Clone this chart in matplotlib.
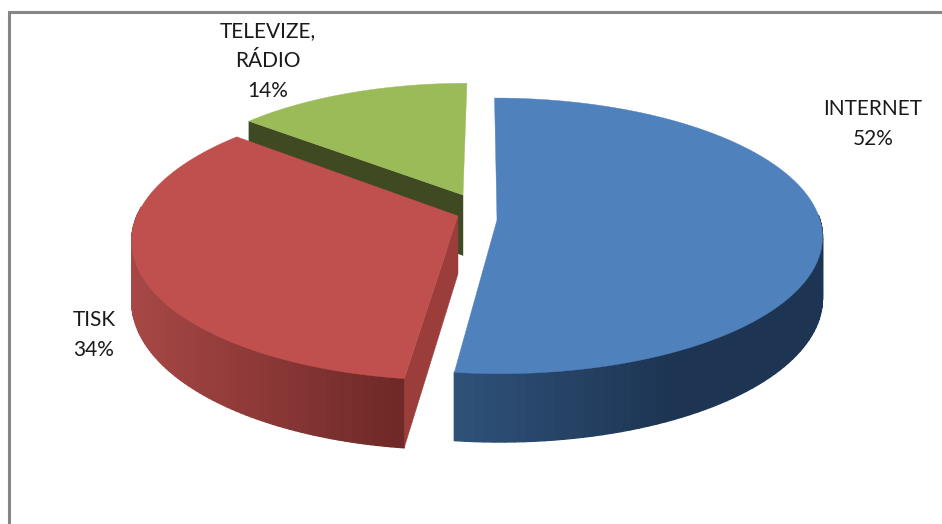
import numpy as np
import matplotlib
matplotlib.use('Agg')
import matplotlib.pyplot as plt
from matplotlib.collections import PolyCollection
from matplotlib.colors import to_rgb

categories = ['INTERNET', 'TISK', 'TELEVIZE,\nRÁDIO']
shares = [52, 34, 14]

# per-slice look, in pixels: apex, size, skew, perspective, depth, colours
apex_x = [497, 458, 463]
apex_y = [220, 216, 195]
slice_scale = [1.0, 0.994, 0.93]
slice_skew = [-0.02, 0.035, 0.035]
slice_b = [136, 138, 133]
slice_p = [0.115, 0.165, 0.115]
slice_depth = [60.5, 58, 60.5]
top_colors = ['#4f81bd', '#c0504d', '#9bbb59']
rim_left = ['#30527a', '#a84846', '#3f4a22']
rim_right = ['#1d3553', '#6f2927', '#3f4a22']
inner_colors = ['#2f4d72', '#9a3d3b', '#3f4a22']
label_x = [873, 94, 268]
label_y = [124, 335, 61]

A = 323


def project(i, theta, r=1.0):
    """Perspective position of a point on slice i, angle clockwise from the top"""
    X = r * np.sin(theta) * slice_scale[i]
    Y = r * np.cos(theta) * slice_scale[i]
    s = 1 / (1 + slice_p[i] * Y)
    sy = apex_y[i] - slice_b[i] * Y * s
    sx = apex_x[i] + A * X * s + slice_skew[i] * (apex_y[i] - sy)
    return sx, sy, s


def quad_side(i, t):
    d = slice_depth[i]
    x0, y0, s0 = project(i, t, 0.0)
    x1, y1, s1 = project(i, t, 1.0)
    return [(x0, y0), (x1, y1), (x1, y1 + d * s1), (x0, y0 + d * s0)]


fig = plt.figure(figsize=(9.42, 5.24), dpi=100)
ax = fig.add_axes([0, 0, 1, 1])
ax.set_xlim(0, 942)
ax.set_ylim(524, 0)
ax.axis('off')

# frame
ax.plot([9, 9, 942], [524, 12, 12], color='#868686', lw=2.2, solid_joinstyle='miter')

bounds = np.cumsum([0] + shares) / sum(shares) * 2 * np.pi
for i in [2, 0, 1]:
    start, end = bounds[i], bounds[i + 1]
    th = np.linspace(start, end, 120)
    d = slice_depth[i]

    # outer rim, only the part facing the viewer
    quads, cols = [], []
    for t0, t1 in zip(th[:-1], th[1:]):
        if np.cos(t0) < 0.05 and i != 2:
            x0, y0, s0 = project(i, t0)
            x1, y1, s1 = project(i, t1)
            quads.append([(x0, y0), (x1, y1), (x1, y1 + d * s1), (x0, y0 + d * s0)])
            f = (x0 - 130) / 270 if i == 1 else (x0 - 453) / 220
            f = min(max(f, 0), 1)
            c = (1 - f) * np.array(to_rgb(rim_left[i])) + f * np.array(to_rgb(rim_right[i]))
            cols.append(c)
    if quads:
        ax.add_collection(PolyCollection(quads, facecolors=cols, edgecolors=cols, linewidths=1.0))

    # cut faces
    if i in (1, 2):
        ax.fill(*zip(*quad_side(i, start)), color=inner_colors[i], lw=0.3)

    # top
    px, py, _ = project(i, th)
    ox, oy, _ = project(i, 0.0, 0.0)
    ax.fill(np.r_[ox, px], np.r_[oy, py], color=top_colors[i], lw=0.3)

for i, name in enumerate(categories):
    ax.text(label_x[i], label_y[i], '{}\n{}%'.format(name, shares[i]), ha='center', va='center',
            family='Lato', fontsize=15, color='#1a1a1a', linespacing=1.63)

fig.savefig('out.png', dpi=100)
